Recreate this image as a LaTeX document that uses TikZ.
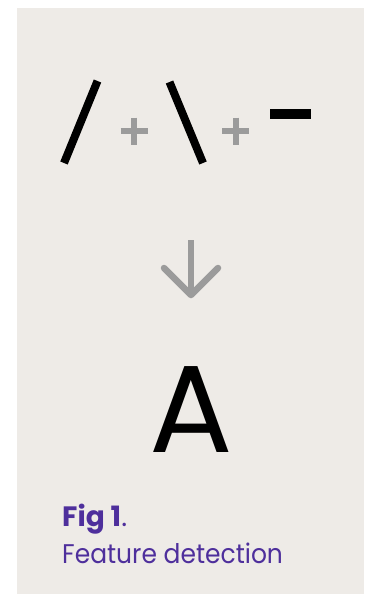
\documentclass[tikz,border=0pt]{standalone}
\usepackage{fontspec}
\setmainfont{Poppins}
\newfontfamily\narrowfont[FakeStretch=0.925]{Poppins}
\definecolor{panelbg}{HTML}{EEEBE7}
\definecolor{plusgray}{HTML}{9B9B9B}
\definecolor{figpurple}{HTML}{4E2F9C}
\begin{document}
\begin{tikzpicture}[x=1pt, y=-1pt,
    stroke/.style={line width=8pt, black},
    plussign/.style={line width=6pt, plusgray},
    caption/.style={anchor=base west, inner sep=0pt, text=figpurple}]

% =============================================
% FONDO
% =============================================
\useasboundingbox (0,0) rectangle (368,594);
\fill[white] (0,0) rectangle (368,594);
\fill[panelbg] (17,8) rectangle (364,594);

% =============================================
% RASGOS: / + \ + -
% =============================================
\draw[stroke] (64,163) -- (97.5,81);   % barra /
\draw[plussign] (120.7,131) -- (148,131);
\draw[plussign] (134.3,117.5) -- (134.3,144.5);
\draw[stroke] (169.5,82) -- (203,163); % barra \
\draw[plussign] (222,131) -- (249,131);
\draw[plussign] (235.5,117.5) -- (235.5,144.5);
\fill[black] (270,109) rectangle (311,119); % guion

% =============================================
% FLECHA hacia abajo
% =============================================
\coordinate (tail) at (191,240);
\coordinate (tip) at (191,295);
\draw[plusgray, line width=6.5pt] (tail) -- ([yshift=-2pt]tip);
\draw[plusgray, line width=6.5pt, line cap=round, line join=round]
    ([shift={(-27,-27)}]tip) -- (tip) -- ([shift={(27,-27)}]tip);

% =============================================
% LETRA resultante
% =============================================
\node[anchor=base, inner sep=0pt, font=\fontsize{124}{124}\selectfont] (letter) at (191,452) {A};

% =============================================
% PIE DE FIGURA
% =============================================
\node[caption, font=\fontsize{28}{32}\selectfont] (figlabel) at (62,526) {\textbf{Fig 1}.};
\node[caption, font=\narrowfont\fontsize{27}{32}\selectfont] (figtitle) at (62,563) {Feature detection};

\end{tikzpicture}
\end{document}
